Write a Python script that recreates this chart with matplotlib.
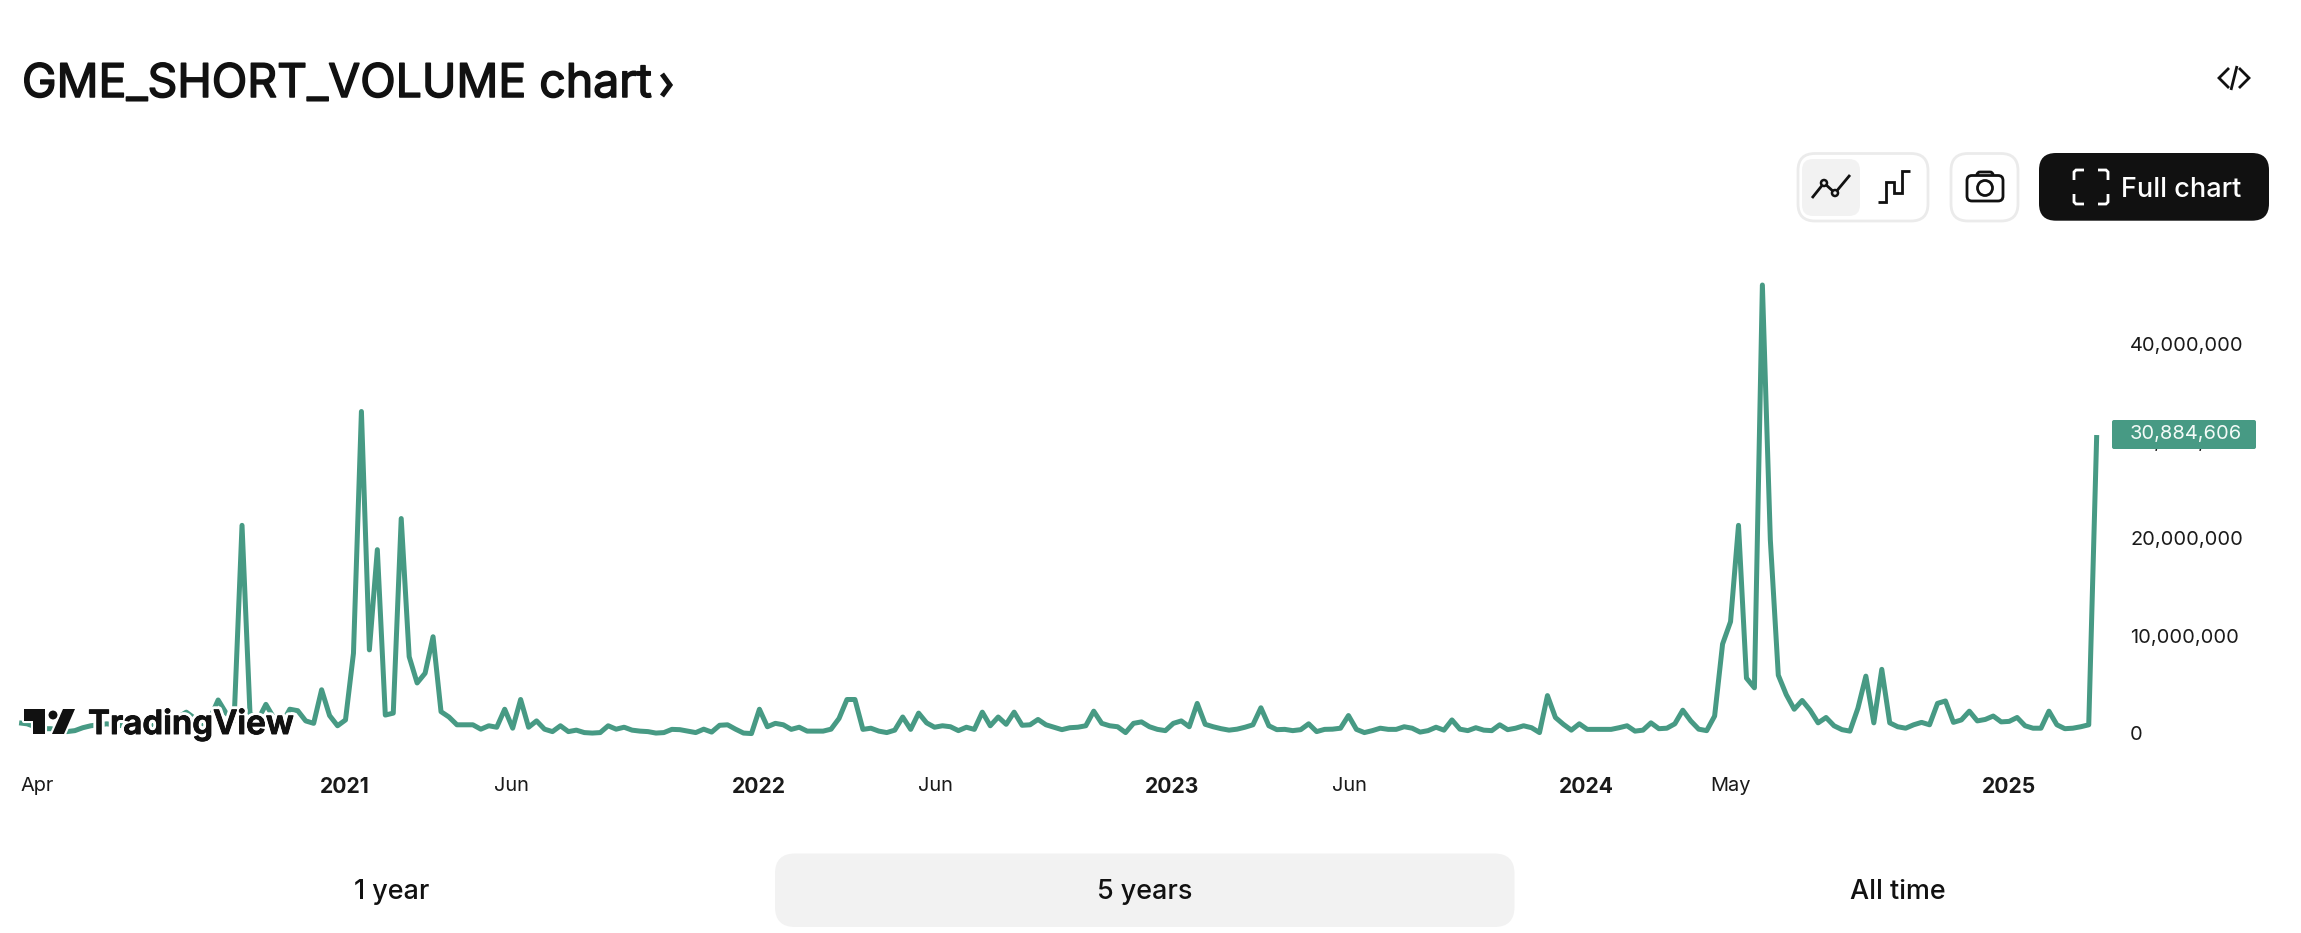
#
# GME short volume chart
#
import matplotlib
matplotlib.use("Agg")
import matplotlib.pyplot as plt
import matplotlib.patheffects as pe
from matplotlib.patches import FancyBboxPatch, Polygon, Circle
from matplotlib.transforms import ScaledTranslation

plt.rcParams["font.family"] = ["Inter", "DejaVu Sans"]

# weekly values in millions, oldest first
short_volume = [
    1.3, 1.2, 0.9, 0.7, 0.7, 0.5, 0.4, 0.5, 0.8, 1.0, 1.1, 1.2, 1.1, 1.0, 1.2, 1.0, 1.1, 1.1, 1.3, 1.5,
    1.9, 2.4, 1.8, 1.2, 1.8, 3.65, 2.3, 1.5, 21.6, 2.3, 1.6, 3.2, 1.8, 1.2, 2.7, 2.55, 1.5, 1.25, 4.7, 2.05,
    1.0, 1.6, 8.45, 33.3, 8.8, 19.1, 2.1, 2.3, 22.3, 8.1, 5.4, 6.4, 10.15, 2.45, 1.9, 1.1, 1.1, 1.1, 0.65, 1.0,
    0.85, 2.7, 0.75, 3.7, 0.85, 1.5, 0.65, 0.4, 1.0, 0.4, 0.55, 0.3, 0.25, 0.3, 1.0, 0.65,
    0.85, 0.55, 0.45, 0.4, 0.25, 0.3, 0.63, 0.6, 0.45, 0.3, 0.65, 0.35, 1.05, 1.1, 0.65, 0.25, 0.2, 2.7,
    0.9, 1.25, 1.1, 0.63, 0.85, 0.45, 0.45, 0.45, 0.65, 1.75, 3.7, 3.7, 0.63, 0.75, 0.45, 0.3, 0.55, 1.9,
    0.63, 2.3, 1.3, 0.85, 1.0, 0.9, 0.5, 0.85, 0.63, 2.4, 1.0, 1.9, 1.15, 2.4, 1.05, 1.1, 1.65, 1.1,
    0.85, 0.6, 0.8, 0.85, 1.0, 2.5, 1.25,
    1.0, 0.9, 0.3, 1.25, 1.4, 0.9, 0.63, 0.5, 1.25, 1.5, 0.9, 3.3, 1.15, 0.9, 0.7, 0.55, 0.65, 0.85, 1.1,
    2.85, 1.0, 0.6, 0.63, 0.5, 0.6, 1.2, 0.4, 0.63, 0.65, 0.75, 2.05, 0.63, 0.3, 0.5, 0.75, 0.63, 0.63,
    0.9, 0.75, 0.35, 0.5, 0.85, 0.55, 1.6, 0.65, 0.5, 0.8, 0.55, 0.5, 1.1, 0.6, 0.75, 1.0, 0.8, 0.3,
    4.1, 1.85, 1.15, 0.55, 1.2, 0.63, 0.63,
    0.63, 0.63, 0.8, 1.0, 0.45, 0.55, 1.3, 0.7, 0.75, 1.2, 2.6, 1.5, 0.65, 0.5, 2.0, 9.4, 11.7, 21.6,
    5.9, 4.9, 46.3, 20.1, 6.2, 4.2, 2.7, 3.6, 2.6, 1.3, 1.85, 1.0, 0.6, 0.45, 2.8, 6.1, 1.3, 6.8, 1.3,
    0.9, 0.75, 1.1, 1.35, 1.1, 3.3, 3.55, 1.35, 1.6, 2.5, 1.5, 1.65, 2.0, 1.4, 1.45, 1.85, 1.0, 0.75,
    0.75, 2.5, 1.1, 0.7, 0.75, 0.9, 1.1, 30.88,
]

x_labels = ["Apr", "2021", "Jun", "2022", "Jun", "2023", "Jun", "2024", "May", "2025"]
# how many weeks each label sits before the last point
x_weeks_back = [258.7, 220.1, 199.1, 168.1, 145.9, 116.1, 93.9, 64.1, 46.0, 11.06]
y_ticks = [0, 10, 20, 30, 40]
y_labels = ["0", "10,000,000", "20,000,000", "30,000,000", "40,000,000"]
last_label = "30,884,606"
tabs = ["1 year", "5 years", "All time"]

W, H = 2301, 933
GREEN = "#479A84"
DARK = "#111111"
TEXT = "#1A1A1A"
GREY = "#F2F2F2"
BORDER = "#EBEBEB"

fig = plt.figure(figsize=(W / 100, H / 100), dpi=100, facecolor="white")

# chart axes, placed so one week is 7.96 px
n = len(short_volume)
right = 2096.7
left = right - (n - 1) * 7.96
y_zero = 735.5
y_top = 285.0
ax = fig.add_axes([left / W, 1 - y_zero / H, (right - left) / W, (y_zero - y_top) / H])
ax.plot(range(n), short_volume, color=GREEN, lw=3.6, solid_joinstyle="round", solid_capstyle="butt", clip_on=False)
ax.set_xlim(0, n - 1)
ax.set_ylim(0, 46.3)
for s in ax.spines.values():
    s.set_visible(False)
ax.patch.set_alpha(0)

ax.yaxis.tick_right()
ax.set_yticks(y_ticks, y_labels)
ax.tick_params(axis="y", length=0, pad=24, labelsize=14.4, labelcolor=TEXT)
up = ScaledTranslation(0, 2.5 / 100, fig.dpi_scale_trans)
for t in ax.get_yticklabels():
    t.set_transform(t.get_transform() + up)

ax.set_xticks([n - 1 - b for b in x_weeks_back], x_labels)
ax.tick_params(axis="x", length=0, pad=30, labelsize=14.4, labelcolor=TEXT)
for t in ax.get_xticklabels():
    if t.get_text().isdigit():
        t.set_fontweight("bold")
        t.set_fontsize(15.2)

# page furniture, drawn in pixel coordinates
ui = fig.add_axes([0, 0, 1, 1], zorder=5)
ui.set_xlim(0, W)
ui.set_ylim(H, 0)
ui.axis("off")


def box(x0, y0, x1, y1, r, fc, ec="none", lw=0):
    ui.add_patch(FancyBboxPatch((x0, y0), x1 - x0, y1 - y0, boxstyle=f"round,pad=0,rounding_size={r}",
                                fc=fc, ec=ec, lw=lw))


def icon(xs, ys, c=DARK, lw=2.0):
    ui.plot(xs, ys, color=c, lw=lw, solid_capstyle="butt", solid_joinstyle="miter")


heavy = [pe.withStroke(linewidth=1.1, foreground=DARK)]
ui.text(22, 97, "GME_SHORT_VOLUME chart", fontsize=33.4, color=DARK, va="baseline", path_effects=heavy)
icon([662, 670, 662], [74, 85, 96], lw=3.6)

# embed icon
icon([2229, 2219, 2229], [68, 78, 88], lw=2)
icon([2239, 2249, 2239], [68, 78, 88], lw=2)
icon([2231, 2237], [90, 66], lw=2)

# line / step switch
box(1798, 153.5, 1928, 221, 17, "white", BORDER, 2)
box(1802, 159, 1860, 216, 11, GREY)
icon([1812, 1824, 1835, 1850], [198, 183, 193, 175])
ui.add_patch(Circle((1824, 183), 3, fc=GREY, ec=DARK, lw=1.8, zorder=4))
ui.add_patch(Circle((1835, 193), 3, fc=GREY, ec=DARK, lw=1.8, zorder=4))
icon([1878, 1886, 1886, 1894, 1894, 1902, 1902, 1910], [202, 202, 182, 182, 193, 193, 171, 171])

# camera button
box(1951, 153.5, 2018, 221, 17, "white", BORDER, 2)
box(1977, 172, 1993, 180, 3, "white", DARK, 2.0)
box(1967, 175.5, 2003, 201, 5, "white", DARK, 2.0)
ui.add_patch(Circle((1985, 188), 7.5, fc="white", ec=DARK, lw=2.0, zorder=4))

# full chart button
box(2039, 153, 2269, 220.7, 17, DARK)
for sx, sy in [(2074, 170), (2108, 170), (2074, 204), (2108, 204)]:
    dx = 1 if sx < 2090 else -1
    dy = 1 if sy < 190 else -1
    icon([sx + dx * 10, sx + dx * 2, sx, sx, ], [sy, sy, sy + dy * 2, sy + dy * 10], c="white", lw=2)
ui.text(2121, 190, "Full chart", fontsize=19.5, fontweight="medium", color="white", va="center")

# last value tag, sits on top of the 30M label
box(2112, 420, 2256, 449, 2, GREEN)
ui.text(2130, 434, last_label, fontsize=14.4, color="#F3FAF7", va="center")

# TradingView logo with the white halo round it
halo = [pe.withStroke(linewidth=5, foreground="white"), pe.withStroke(linewidth=0.7, foreground=DARK)]
logo_parts = [
    [[24, 709], [45, 709], [45, 734], [33, 734], [33, 721], [24, 721]],
    [[63, 709], [75, 709], [64, 734], [52, 734]],
]
for p in logo_parts:
    ui.add_patch(Polygon(p, fc=DARK, ec="white", lw=3, joinstyle="round"))
    ui.add_patch(Polygon(p, fc=DARK, ec="none"))
ui.add_patch(Circle((53, 715), 5.5, fc=DARK, ec="white", lw=1.5))
ui.text(88, 734, "TradingView", fontsize=24, fontweight="semibold", color=DARK, va="baseline", path_effects=halo)

# range tabs
box(775, 853.5, 1514.5, 927, 20, GREY)
for label, cx in zip(tabs, [392, 1145, 1897.5]):
    ui.text(cx, 892, label, fontsize=19.4, fontweight="medium", color=DARK, ha="center", va="center")

fig.savefig("out.png", dpi=100, facecolor="white")
